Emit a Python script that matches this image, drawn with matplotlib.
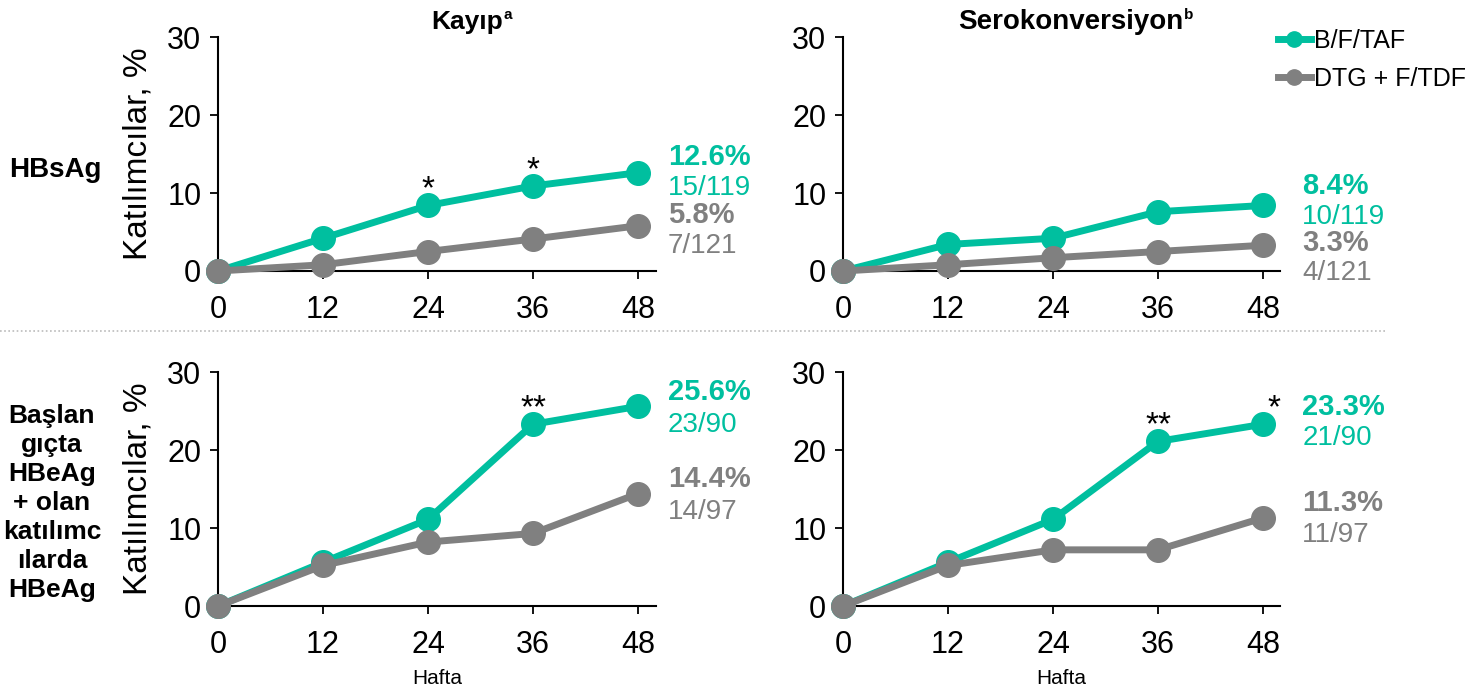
import matplotlib
matplotlib.use('Agg')
import matplotlib.pyplot as plt

weeks = [0, 12, 24, 36, 48]

# HBsAg kaybi / serokonversiyon, HBeAg kaybi / serokonversiyon
bftaf_loss_s = [0, 4.2, 8.4, 10.9, 12.6]
dtg_loss_s = [0, 0.8, 2.5, 4.1, 5.8]
bftaf_sero_s = [0, 3.4, 4.2, 7.6, 8.4]
dtg_sero_s = [0, 0.8, 1.7, 2.5, 3.3]
bftaf_loss_e = [0, 5.6, 11.1, 23.3, 25.6]
dtg_loss_e = [0, 5.2, 8.2, 9.3, 14.4]
bftaf_sero_e = [0, 5.6, 11.1, 21.1, 23.3]
dtg_sero_e = [0, 5.2, 7.2, 7.2, 11.3]

counts_bftaf = ['15/119', '10/119', '23/90', '21/90']
counts_dtg = ['7/121', '4/121', '14/97', '11/97']
stars = [{24: '*', 36: '*'}, {}, {36: '**'}, {36: '**', 48: '*'}]

teal = '#00bf9f'
grey = '#808080'

plt.rcParams['font.family'] = ['Liberation Sans', 'DejaVu Sans']

fig = plt.figure(figsize=(14.78, 6.91), dpi=100)
W, H = 1478, 691

panels = [
    (bftaf_loss_s, dtg_loss_s, 218, 271),
    (bftaf_sero_s, dtg_sero_s, 843, 271),
    (bftaf_loss_e, dtg_loss_e, 218, 606),
    (bftaf_sero_e, dtg_sero_e, 843, 606),
]
# label y positions (data units): pct teal, count teal, pct grey, count grey
label_y = [(14.6, 10.6, 7.2, 3.2), (10.9, 6.9, 3.6, -0.3),
           (27.4, 23.2, 16.3, 12.1), (25.5, 21.5, 13.2, 9.1)]
label_x = [51.4, 52.5, 51.4, 52.5]

axes = []
for i, (a, b, x0, y0) in enumerate(panels):
    ax = fig.add_axes([x0 / W, 1 - y0 / H, 437.5 / W, 234 / H])
    axes.append(ax)
    ax.plot(weeks, b, color=grey, lw=5, marker='o', ms=17, clip_on=False, zorder=3)
    ax.plot(weeks, a, color=teal, lw=5, marker='o', ms=17, clip_on=False, zorder=2)
    ax.set_xlim(0, 50)
    ax.set_ylim(0, 30)
    ax.set_xticks(weeks)
    ax.set_yticks([0, 10, 20, 30])
    ax.tick_params(labelsize=22, width=1.3, length=6, pad=6)
    ax.tick_params(axis='x', pad=11)
    for s in ['top', 'right']:
        ax.spines[s].set_visible(False)
    for s in ['left', 'bottom']:
        ax.spines[s].set_linewidth(1.5)
    if i % 2 == 0:
        ax.set_ylabel('Katılımcılar, %', fontsize=24, labelpad=10)
    ly = label_y[i]
    lx = label_x[i]
    ax.text(lx, ly[0], f'{a[-1]:.1f}%', color=teal, fontsize=21, fontweight='bold', va='center', clip_on=False)
    ax.text(lx, ly[1], counts_bftaf[i], color=teal, fontsize=20, va='center', clip_on=False)
    ax.text(lx, ly[2], f'{b[-1]:.1f}%', color=grey, fontsize=21, fontweight='bold', va='center', clip_on=False)
    ax.text(lx, ly[3], counts_dtg[i], color=grey, fontsize=20, va='center', clip_on=False)
    for wk, s in stars[i].items():
        v = a[weeks.index(wk)]
        dx = 1.2 if wk == 48 else 0
        ax.annotate(s, (wk + dx, v), xytext=(0, 0), textcoords='offset points',
                    ha='center', va='bottom', fontsize=24)
    if i >= 2:
        ax.text(0.5, -0.27, 'Hafta', transform=ax.transAxes, ha='center', va='top', fontsize=15)

# titles
fig.text(503 / W, 1 - 22 / H, 'Kayıp', ha='right', va='center', fontsize=19, fontweight='bold')
fig.text(504 / W, 1 - 15 / H, 'a', ha='left', va='center', fontsize=11, fontweight='bold')
fig.text(1183 / W, 1 - 22 / H, 'Serokonversiyon', ha='right', va='center', fontsize=20, fontweight='bold')
fig.text(1184 / W, 1 - 15 / H, 'b', ha='left', va='center', fontsize=11, fontweight='bold')

# row labels
fig.text(55 / W, 1 - 170 / H, 'HBsAg', ha='center', va='center', fontsize=20, fontweight='bold')
fig.text(52 / W, 1 - 503 / H, 'Başlan\ngıçta\nHBeAg\n+ olan\nkatılımc\nılarda\nHBeAg', ha='center', va='center',
         fontsize=19, fontweight='bold', linespacing=1.27)

# separator
fig.add_artist(plt.Line2D([0, 1385 / W], [1 - 331 / H, 1 - 331 / H], color='#bbbbbb', lw=1.2, ls=(0, (1, 1.5))))

# legend
fig.legend(handles=[
    plt.Line2D([], [], color=teal, lw=5, marker='o', ms=11),
    plt.Line2D([], [], color=grey, lw=5, marker='o', ms=11)],
    labels=['B/F/TAF', 'DTG + F/TDF'], loc='upper left', bbox_to_anchor=(1278 / W, 1 - 29 / H),
    frameon=False, fontsize=18, handlelength=1.3, handletextpad=0.15, labelspacing=0.55,
    borderaxespad=0, borderpad=0)

fig.savefig('out.png', dpi=100)
